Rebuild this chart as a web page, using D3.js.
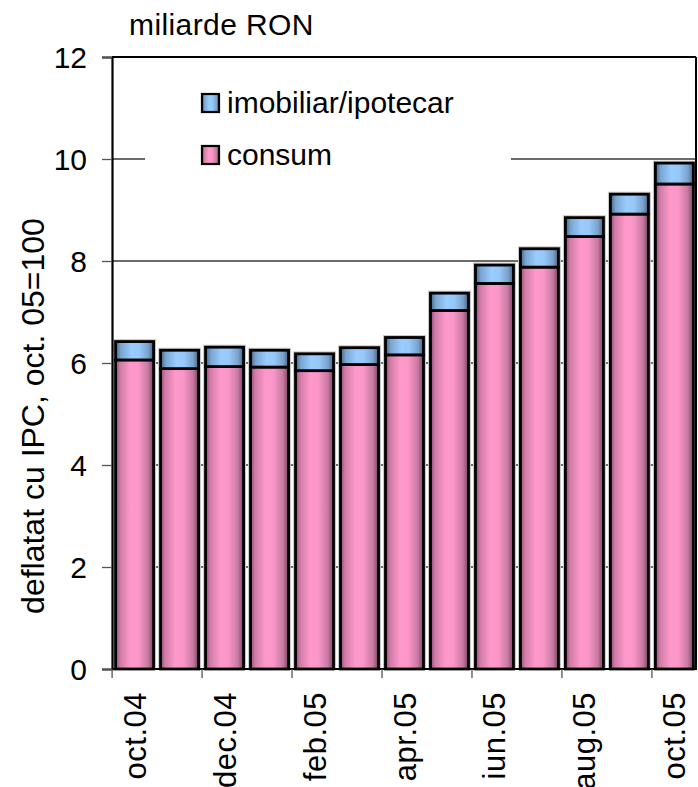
<!DOCTYPE html>
<html><head><meta charset="utf-8">
<script src="https://cdn.jsdelivr.net/npm/d3@7"></script>
<style>body{margin:0;background:#fff}svg{display:block}text{font-family:"Liberation Sans",Arial,sans-serif}</style>
</head><body>
<svg id="c" width="698" height="787"></svg>
<script>
const categories = ["oct.04","nov.04","dec.04","ian.05","feb.05","mar.05","apr.05","mai.05","iun.05","iul.05","aug.05","sep.05","oct.05"];
const consum = [6.06,5.89,5.93,5.92,5.85,5.97,6.16,7.03,7.56,7.88,8.48,8.92,9.51];
const imobiliar = [0.36,0.36,0.38,0.33,0.33,0.33,0.34,0.34,0.36,0.36,0.37,0.39,0.41];
const yTicks = [0,2,4,6,8,10,12];
const xLabelCats = ["oct.04","dec.04","feb.05","apr.05","iun.05","aug.05","oct.05"];
const seriesNames = ["imobiliar/ipotecar","consum"];

const svg = d3.select("#c");
const L = 112, R = 697, T = 57, B = 669;
const x = d3.scaleBand().domain(categories).range([L, R]).paddingInner(0.155).paddingOuter(0.08);
const y = d3.scaleLinear().domain([0, 12]).range([B, T]);

const defs = svg.append("defs");
function grad(id, stops){
  const g = defs.append("linearGradient").attr("id", id).attr("x1","0%").attr("x2","100%").attr("y1","0%").attr("y2","0%");
  stops.forEach(s => g.append("stop").attr("offset", s[0]).attr("stop-color", s[1]));
}
grad("gPink", [["0%","#8e4a70"],["12%","#d07ca6"],["40%","#ff99cc"],["60%","#fb96c8"],["85%","#c77aa1"],["100%","#7c4262"]]);
grad("gBlue", [["0%","#44617e"],["14%","#7aa6d2"],["42%","#99ccff"],["62%","#96c8fa"],["86%","#7aa2cb"],["100%","#45607c"]]);

// gridlines
svg.append("g").selectAll("line").data(yTicks.filter(d => d > 0 && d < 12)).join("line")
  .attr("x1", L).attr("x2", R).attr("y1", d => y(d)).attr("y2", d => y(d))
  .attr("stroke", "#3a3a3a").attr("stroke-width", 1.3);

// legend background
svg.append("rect").attr("x", 145).attr("y", 78).attr("width", 366).attr("height", 100).attr("fill", "#fff");

// bars
const stacked = categories.map((c, i) => ({c, a: consum[i], b: imobiliar[i]}));
const g = svg.append("g");
g.selectAll("rect.shadow").data(stacked).join("rect")
  .attr("x", d => x(d.c) - 1.5).attr("y", d => y(d.a + d.b) - 1.5)
  .attr("width", x.bandwidth() + 3).attr("height", d => B - y(d.a + d.b) + 1.5)
  .attr("fill", "none").attr("stroke", "#c8c8c8").attr("stroke-width", 2);
g.selectAll("rect.consum").data(stacked).join("rect").attr("class","consum")
  .attr("x", d => x(d.c)).attr("y", d => y(d.a))
  .attr("width", x.bandwidth()).attr("height", d => B - y(d.a))
  .attr("fill", "url(#gPink)").attr("stroke", "#000").attr("stroke-width", 2.8);
g.selectAll("rect.imob").data(stacked).join("rect").attr("class","imob")
  .attr("x", d => x(d.c)).attr("y", d => y(d.a + d.b))
  .attr("width", x.bandwidth()).attr("height", d => y(d.a) - y(d.a + d.b))
  .attr("fill", "url(#gBlue)").attr("stroke", "#000").attr("stroke-width", 2.8);

// plot frame
svg.append("line").attr("x1", L).attr("x2", R - 1).attr("y1", T).attr("y2", T).attr("stroke", "#000").attr("stroke-width", 2);
svg.append("line").attr("x1", R - 1).attr("x2", R - 1).attr("y1", T).attr("y2", B).attr("stroke", "#000").attr("stroke-width", 2);

// y axis
const yAxis = svg.append("g").attr("transform", `translate(${L},0)`)
  .call(d3.axisLeft(y).tickValues(yTicks).tickSize(10).tickPadding(15).tickFormat(d3.format("d")));
yAxis.select(".domain").attr("stroke", "#000").attr("stroke-width", 2.2);
yAxis.selectAll(".tick line").attr("stroke", "#555").attr("stroke-width", 1.3);
yAxis.selectAll(".tick text").attr("font-size", 30).attr("fill", "#000").attr("font-family", '"Liberation Sans",Arial,sans-serif').attr("dy", "0.36em");

// x axis
svg.append("line").attr("x1", L).attr("x2", R).attr("y1", B).attr("y2", B).attr("stroke", "#000").attr("stroke-width", 2.2);
const step = x.step();
svg.append("g").selectAll("line").data(xLabelCats).join("line")
  .attr("x1", d => x(d) - step * x.paddingInner() / 2).attr("x2", d => x(d) - step * x.paddingInner() / 2)
  .attr("y1", B).attr("y2", B + 9).attr("stroke", "#555").attr("stroke-width", 1.3);
svg.append("g").selectAll("text").data(xLabelCats).join("text")
  .attr("transform", d => `translate(${x(d) + x.bandwidth() / 2 + 11},692) rotate(-90)`)
  .attr("text-anchor", "end").attr("font-size", 31).attr("letter-spacing", 0.5).attr("fill", "#000").text(d => d);

// y axis title
svg.append("text").attr("transform", `translate(44,416) rotate(-90)`)
  .attr("text-anchor", "middle").attr("font-size", 32).attr("fill", "#000").text("deflatat cu IPC, oct. 05=100");

// units
svg.append("text").attr("x", 129).attr("y", 35).attr("font-size", 30).attr("letter-spacing", 0.4).attr("fill", "#000").text("miliarde RON");

// legend
const leg = svg.append("g");
const legFills = ["url(#gBlue)", "url(#gPink)"];
const legY = [94, 146];
seriesNames.forEach((n, i) => {
  leg.append("rect").attr("x", 202).attr("y", legY[i]).attr("width", 17).attr("height", 18)
    .attr("fill", legFills[i]).attr("stroke", "#000").attr("stroke-width", 2.2);
  leg.append("text").attr("x", 227).attr("y", legY[i] + 19).attr("font-size", 30).attr("fill", "#000").text(n);
});
</script>
</body></html>
